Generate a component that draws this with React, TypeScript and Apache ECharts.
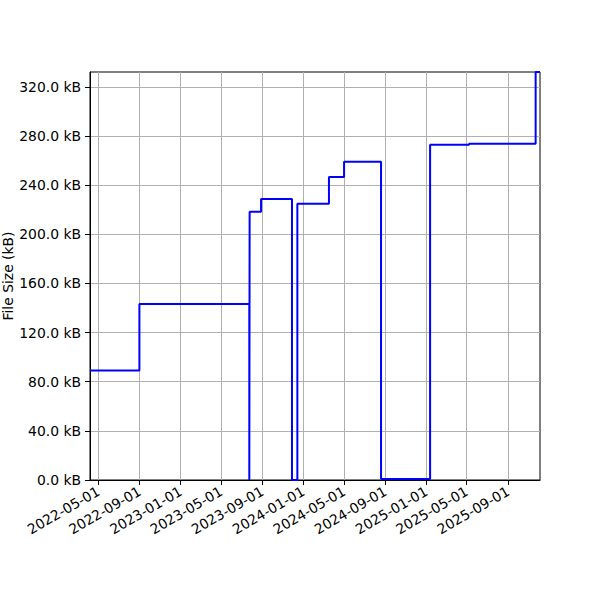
import * as echarts from 'echarts';
import React, { useEffect, useRef } from 'react';

// step points (value holds until the next date)
const dates = [
  '2022-04-06', '2022-08-31', '2023-07-24', '2023-07-25', '2023-08-28',
  '2023-11-28', '2023-12-14', '2024-03-17', '2024-05-01', '2024-08-19',
  '2025-01-12', '2025-05-08', '2025-11-22', '2025-12-05',
];
const sizes = [
  89.1, 143.4, 0, 218.5, 228.8,
  0, 225.0, 246.7, 259.2, 0.8,
  273.0, 273.8, 332.2, 332.2,
];
const dateTicks = [
  '2022-05-01', '2022-09-01', '2023-01-01', '2023-05-01', '2023-09-01',
  '2024-01-01', '2024-05-01', '2024-09-01', '2025-01-01', '2025-05-01',
  '2025-09-01',
];
const sizeTicks = [0, 40, 80, 120, 160, 200, 240, 280, 320];
const sizeMax = 332.2;

const toTime = (s: string) => new Date(s + 'T00:00:00').getTime();
const pad = (n: number) => (n < 10 ? '0' + n : '' + n);
const fmtDate = (v: number) => {
  const d = new Date(v);
  return `${d.getFullYear()}-${pad(d.getMonth() + 1)}-${pad(d.getDate())}`;
};

const App: React.FC = () => {
  const chartRef = useRef<HTMLDivElement>(null);

  useEffect(() => {
    document.body.style.margin = '0';
    const myChart = echarts.init(chartRef.current!, undefined, { renderer: 'svg' });
    const font = 'DejaVu Sans';
    const tickTimes = dateTicks.map(toTime);

    const option = {
      animation: false,
      textStyle: { fontFamily: font },
      grid: {
        left: 90,
        right: 60,
        top: 72,
        bottom: 120,
        outerBoundsMode: 'none',
        containLabel: false,
        show: true,
        borderColor: '#000',
        borderWidth: 1,
        backgroundColor: 'transparent',
      },
      xAxis: {
        // dates as timestamps on a value axis, ticks placed at month starts
        type: 'value',
        min: toTime(dates[0]),
        max: toTime(dates[dates.length - 1]),
        axisLine: { onZero: false, lineStyle: { color: '#000', width: 1 } },
        axisTick: {
          show: true,
          length: 5,
          lineStyle: { color: '#000', width: 1 },
          customValues: tickTimes,
        },
        axisLabel: {
          customValues: tickTimes,
          rotate: 30,
          margin: 10,
          color: '#000',
          fontSize: 13.9,
          fontFamily: font,
          formatter: (v: number) => fmtDate(v),
          hideOverlap: false,
        },
        splitLine: { show: true, lineStyle: { color: '#b0b0b0', width: 1 } },
      },
      yAxis: {
        type: 'value',
        min: 0,
        max: sizeMax,
        name: 'File Size (kB)',
        nameLocation: 'middle',
        nameGap: 75,
        nameMoveOverlap: false,
        nameTextStyle: { color: '#000', fontSize: 13.9, fontFamily: font },
        axisLine: { show: true, lineStyle: { color: '#000', width: 1 } },
        axisTick: {
          show: true,
          length: 5,
          lineStyle: { color: '#000', width: 1 },
          customValues: sizeTicks,
        },
        axisLabel: {
          customValues: sizeTicks,
          margin: 9,
          color: '#000',
          fontSize: 13.9,
          fontFamily: font,
          formatter: (v: number) => `${v.toFixed(1)} kB`,
        },
        splitLine: { show: true, lineStyle: { color: '#b0b0b0', width: 1 } },
      },
      series: [
        {
          type: 'line',
          step: 'end',
          data: dates.map((d, i) => [toTime(d), sizes[i]]),
          showSymbol: false,
          symbol: 'none',
          lineStyle: { color: '#0000ff', width: 2 },
          clip: true,
          z: 3,
        },
      ],
    };

    myChart.setOption(option);

    return () => {
      myChart.dispose();
    };
  }, []);

  return <div ref={chartRef} style={{ width: '600px', height: '600px' }} />;
};

export default App;
